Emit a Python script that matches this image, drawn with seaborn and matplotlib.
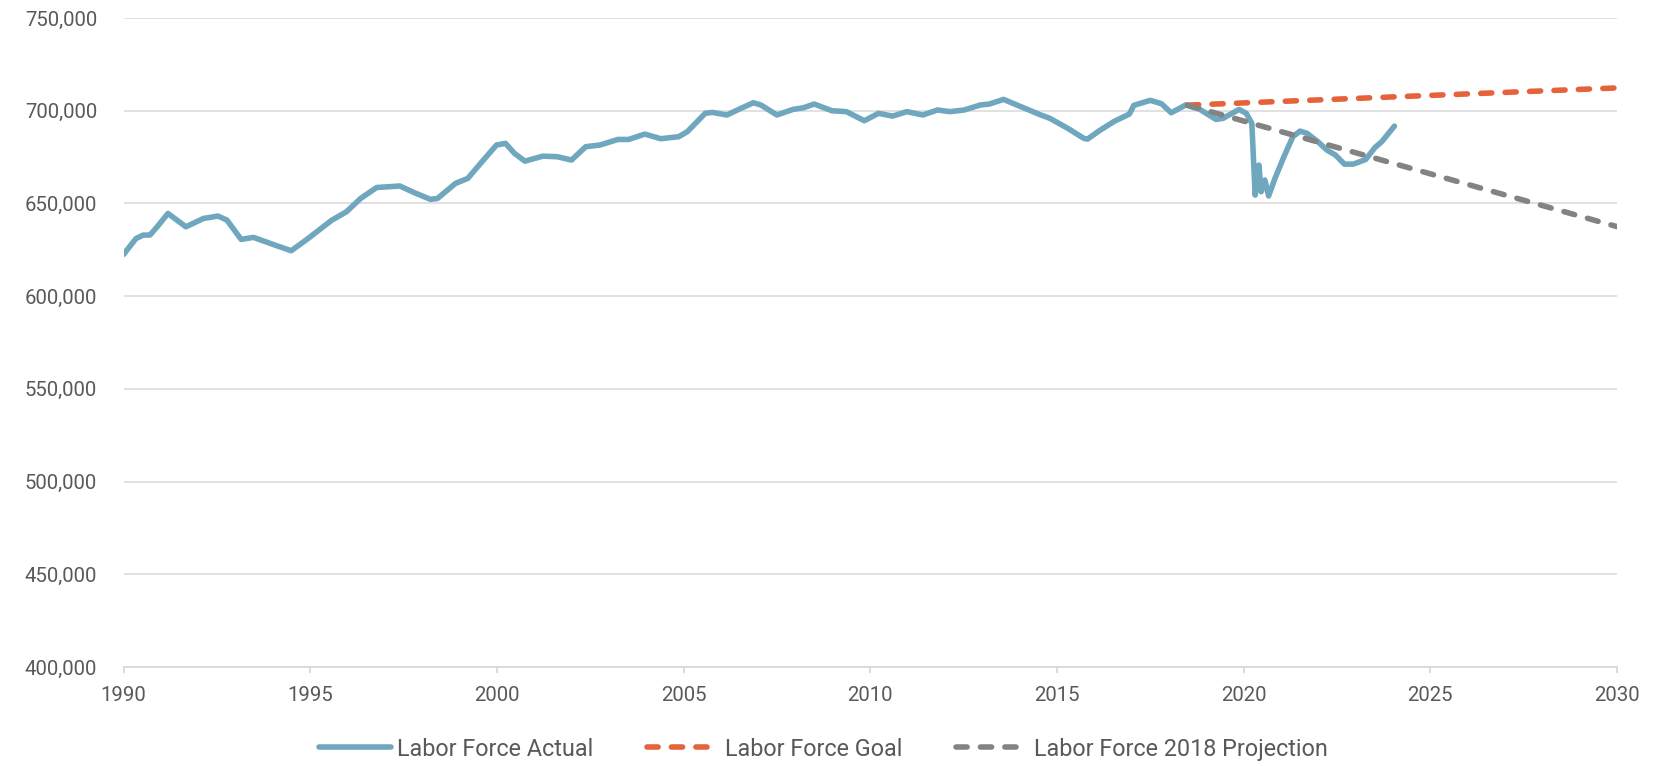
import numpy as np
import pandas as pd
import matplotlib
matplotlib.use('Agg')
import matplotlib.pyplot as plt
import matplotlib.ticker as mticker
import seaborn as sns

# ==========================================
# DATA (thousands)
# ==========================================
actual_year = [
    1990.00, 1990.33, 1990.52, 1990.71, 1990.90, 1991.19, 1991.43, 1991.67,
    1992.14, 1992.53, 1992.77, 1993.15, 1993.48, 1994.06, 1994.49, 1994.91,
    1995.58, 1995.97, 1996.35, 1996.78, 1997.40, 1997.79, 1998.22, 1998.41,
    1998.89, 1999.22, 1999.60, 1999.99, 2000.23, 2000.47, 2000.75, 2001.23,
    2001.61, 2002.00, 2002.38, 2002.76, 2003.24, 2003.53, 2003.96, 2004.39,
    2004.87, 2005.10, 2005.58, 2005.77, 2006.16, 2006.54, 2006.87, 2007.07,
    2007.50, 2007.93, 2008.21, 2008.50, 2008.97, 2009.36, 2009.84, 2010.22,
    2010.60, 2010.98, 2011.41, 2011.80, 2012.13, 2012.52, 2012.95, 2013.19,
    2013.57, 2014.14, 2014.57, 2014.81, 2015.29, 2015.72, 2015.82, 2016.15,
    2016.53, 2016.94, 2017.06, 2017.50, 2017.80, 2018.06, 2018.45, 2018.83,
    2019.26, 2019.45, 2019.88, 2020.07, 2020.22, 2020.31, 2020.41, 2020.47,
    2020.57, 2020.67, 2020.84, 2021.08, 2021.32, 2021.51, 2021.70, 2021.99,
    2022.23, 2022.46, 2022.70, 2022.94, 2023.27, 2023.52, 2023.70, 2024.04,
]
actual_value = [
    622.5, 631.0, 632.9, 633.0, 637.4, 644.6, 641.0, 637.4,
    641.9, 643.2, 641.0, 630.6, 631.7, 627.5, 624.5, 630.6,
    641.0, 645.5, 652.7, 658.6, 659.4, 655.8, 652.2, 652.7,
    660.8, 663.5, 672.5, 681.5, 682.4, 677.0, 672.8, 675.5,
    675.2, 673.4, 680.6, 681.5, 684.5, 684.5, 687.4, 684.9,
    686.0, 688.7, 698.6, 699.1, 697.7, 701.3, 704.3, 703.1,
    697.7, 700.7, 701.6, 703.6, 700.0, 699.5, 694.6, 698.6,
    697.1, 699.5, 697.7, 700.4, 699.5, 700.4, 703.1, 703.6,
    706.1, 701.3, 697.7, 695.9, 690.5, 685.1, 684.7, 689.4,
    694.2, 698.2, 702.9, 705.6, 703.8, 698.9, 703.1, 700.7,
    695.3, 695.9, 700.7, 698.6, 693.2, 654.5, 670.7, 656.3,
    662.6, 654.0, 663.5, 675.2, 686.0, 689.0, 687.8, 683.3,
    678.8, 676.1, 671.2, 671.2, 673.7, 680.2, 683.3, 691.7,
]

goal_year = [2018.5, 2030.0]
goal_value = [703.0, 712.3]

proj_year = [2018.5, 2030.0]
proj_value = [703.0, 637.5]

x_ticks = [1990, 1995, 2000, 2005, 2010, 2015, 2020, 2025, 2030]
y_ticks = [400, 450, 500, 550, 600, 650, 700, 750]

# ==========================================
# STYLE
# ==========================================
sns.set_theme(style='white')
plt.rcParams['font.family'] = ['Roboto', 'DejaVu Sans']

BLUE = '#6FA7BF'
ORANGE = '#E5623B'
GREY = '#838383'
GRID = '#D9D9D9'
TEXT = '#595959'
LW = 4.0

df_actual = pd.DataFrame({'year': actual_year, 'value': np.array(actual_value) * 1000})
df_goal = pd.DataFrame({'year': goal_year, 'value': np.array(goal_value) * 1000})
df_proj = pd.DataFrame({'year': proj_year, 'value': np.array(proj_value) * 1000})

fig = plt.figure(figsize=(16.54, 7.66), dpi=100)
ax = fig.add_axes([0.0747, 0.1292, 0.9029, 0.8473])

sns.lineplot(data=df_actual, x='year', y='value', ax=ax, color=BLUE, linewidth=LW,
             estimator=None, sort=False, label='Labor Force Actual',
             solid_capstyle='round', solid_joinstyle='round')
sns.lineplot(data=df_goal, x='year', y='value', ax=ax, color=ORANGE, linewidth=LW,
             estimator=None, label='Labor Force Goal')
sns.lineplot(data=df_proj, x='year', y='value', ax=ax, color=GREY, linewidth=LW,
             estimator=None, label='Labor Force 2018 Projection')

for line in ax.get_lines()[1:]:
    line.set_dashes((2.0, 2.4))
    line.set_dash_capstyle('round')

ax.set_xlim(1990, 2030)
ax.set_ylim(400000, 750000)
ax.set_xticks(x_ticks)
ax.set_yticks([v * 1000 for v in y_ticks])
ax.yaxis.set_major_formatter(mticker.FuncFormatter(lambda v, p: f'{int(v):,}'))

ax.grid(axis='y', color=GRID, linewidth=1.1)
ax.set_axisbelow(True)
for side in ['left', 'right', 'top']:
    ax.spines[side].set_visible(False)
ax.spines['bottom'].set_color(GRID)
ax.spines['bottom'].set_linewidth(1.3)

ax.tick_params(axis='x', colors=TEXT, labelsize=14.7, length=4.5, width=1.3,
               color=GRID, direction='out', pad=9, bottom=True)
ax.tick_params(axis='y', colors=TEXT, labelsize=14.7, length=0, pad=19)
ax.set_xlabel('')
ax.set_ylabel('')

ax.get_legend().remove()
handles, labels = ax.get_legend_handles_labels()
leg = fig.legend(handles, labels, loc='center', bbox_to_anchor=(0.498, 0.022),
                 ncol=3, frameon=False, fontsize=16.8, handlelength=3.1,
                 handletextpad=0.25, columnspacing=2.3)
for t in leg.get_texts():
    t.set_color(TEXT)
for lh in leg.get_lines():
    lh.set_linewidth(LW)
    lh.set_solid_capstyle('round')

plt.savefig('out.png', dpi=100)
